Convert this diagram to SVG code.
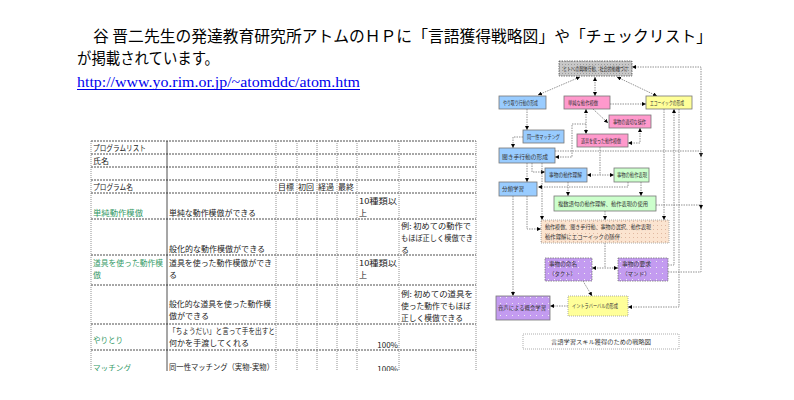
<svg xmlns="http://www.w3.org/2000/svg" width="794" height="400" viewBox="0 0 794 400">
<style>
.t{font-family:"Noto Sans CJK JP","Noto Sans",sans-serif;font-size:8px;fill:#222}
.g{fill:#339966}
.h{stroke:#222;stroke-width:0.8;stroke-dasharray:2 1}
.v{stroke:#777;stroke-width:0.8;stroke-dasharray:1 1}
.b{font-family:"Noto Sans CJK JP","Noto Sans",sans-serif;font-size:5.5px;fill:#333}
.c{fill:none;stroke:#777;stroke-width:0.8;stroke-dasharray:1.5 1}
.bx{stroke:#777;stroke-width:0.8}
</style>
<defs>
<marker id="ah" viewBox="0 0 6 6" refX="6" refY="3" markerWidth="4" markerHeight="4" markerUnits="userSpaceOnUse" orient="auto-start-reverse"><path d="M0,0 L6,3 L0,6 z" fill="#000"/></marker>
<pattern id="pg" width="3" height="3" patternUnits="userSpaceOnUse"><rect width="3" height="3" fill="#c8c8c8"/><rect x="1" y="1" width="1" height="1" fill="#9a9a9a"/></pattern>
<pattern id="po" width="4" height="4" patternUnits="userSpaceOnUse"><rect width="4" height="4" fill="#fbe4d0"/><rect x="1" y="1" width="1" height="1" fill="#e0b8a0"/></pattern>
<pattern id="pp" width="6" height="6" patternUnits="userSpaceOnUse"><rect width="6" height="6" fill="#c39bf0"/><rect x="2" y="3" width="1" height="1" fill="#eee"/></pattern>
<clipPath id="cl"><rect x="0" y="0" width="794" height="371"/></clipPath>
</defs>
<rect width="794" height="400" fill="#fff"/>

<g id="header">
<text x="93" y="42" font-family="'Noto Sans CJK JP',sans-serif" font-size="15.5" fill="#000" textLength="619" lengthAdjust="spacingAndGlyphs">谷 晋二先生の発達教育研究所アトムのＨＰに「言語獲得戦略図」や「チェックリスト」</text>
<text x="77" y="64" font-family="'Noto Sans CJK JP',sans-serif" font-size="15.5" fill="#000" textLength="142" lengthAdjust="spacingAndGlyphs">が掲載されています。</text>
<text x="77" y="87" font-family="'Liberation Serif',serif" font-size="14" fill="#0000ee" textLength="283" lengthAdjust="spacingAndGlyphs">http://www.yo.rim.or.jp/~atomddc/atom.htm</text>
<line x1="77" y1="89.5" x2="360" y2="89.5" stroke="#0000ee" stroke-width="1"/>
</g>

<g id="table" clip-path="url(#cl)">
<g>
<line class="h" x1="91" y1="141" x2="476" y2="141"/>
<line class="h" x1="91" y1="154" x2="476" y2="154"/>
<line class="h" x1="91" y1="167" x2="476" y2="167"/>
<line class="h" x1="91" y1="180" x2="476" y2="180"/>
<line class="h" x1="91" y1="193" x2="476" y2="193"/>
<line class="h" x1="91" y1="219" x2="476" y2="219"/>
<line class="h" x1="91" y1="255" x2="476" y2="255"/>
<line class="h" x1="91" y1="285" x2="476" y2="285"/>
<line class="h" x1="91" y1="324" x2="476" y2="324"/>
<line class="h" x1="91" y1="350" x2="476" y2="350"/>
<line class="v" x1="91" y1="141" x2="91" y2="380"/>
<line x1="167" y1="141" x2="167" y2="380" stroke="#222" stroke-width="0.8"/>
<line class="v" x1="276" y1="141" x2="276" y2="380"/>
<line class="v" x1="297" y1="141" x2="297" y2="380"/>
<line class="v" x1="317" y1="141" x2="317" y2="380"/>
<line class="v" x1="337" y1="141" x2="337" y2="380"/>
<line class="v" x1="357" y1="141" x2="357" y2="380"/>
<line class="v" x1="399" y1="141" x2="399" y2="380"/>
<line class="v" x1="476" y1="141" x2="476" y2="380"/>
</g>
<text class="t" x="93" y="151" textLength="53" lengthAdjust="spacingAndGlyphs">プログラムリスト</text>
<text class="t" x="93" y="164">氏名</text>
<text class="t" x="93" y="190" textLength="40" lengthAdjust="spacingAndGlyphs">プログラム名</text>
<text class="t" x="278" y="190">目標</text>
<text class="t" x="298" y="190">初回</text>
<text class="t" x="318" y="190">経過</text>
<text class="t" x="338" y="190">最終</text>

<text class="t g" x="93" y="216" textLength="50" lengthAdjust="spacingAndGlyphs">単純動作模倣</text>
<text class="t" x="169" y="216" textLength="87" lengthAdjust="spacingAndGlyphs">単純な動作模倣ができる</text>
<text class="t" x="359" y="204" textLength="38" lengthAdjust="spacingAndGlyphs">10種類以</text>
<text class="t" x="359" y="216">上</text>

<text class="t" x="169" y="252" textLength="96" lengthAdjust="spacingAndGlyphs">般化的な動作模倣ができる</text>
<text class="t" x="401" y="229" textLength="70" lengthAdjust="spacingAndGlyphs">例: 初めての動作で</text>
<text class="t" x="401" y="241" textLength="72" lengthAdjust="spacingAndGlyphs">もほぼ正しく模倣でき</text>
<text class="t" x="401" y="253">る</text>

<text class="t g" x="93" y="266" textLength="70" lengthAdjust="spacingAndGlyphs">道具を使った動作模</text>
<text class="t g" x="93" y="278">倣</text>
<text class="t" x="169" y="266" textLength="103" lengthAdjust="spacingAndGlyphs">道具を使った動作模倣ができ</text>
<text class="t" x="169" y="278">る</text>
<text class="t" x="359" y="266" textLength="38" lengthAdjust="spacingAndGlyphs">10種類以</text>
<text class="t" x="359" y="278">上</text>

<text class="t" x="169" y="307" textLength="102" lengthAdjust="spacingAndGlyphs">般化的な道具を使った動作模</text>
<text class="t" x="169" y="319" textLength="40" lengthAdjust="spacingAndGlyphs">倣ができる</text>
<text class="t" x="401" y="297" textLength="72" lengthAdjust="spacingAndGlyphs">例: 初めての道具を</text>
<text class="t" x="401" y="309" textLength="70" lengthAdjust="spacingAndGlyphs">使った動作でもほぼ</text>
<text class="t" x="401" y="321" textLength="62" lengthAdjust="spacingAndGlyphs">正しく模倣できる</text>

<text class="t g" x="93" y="343" textLength="30" lengthAdjust="spacingAndGlyphs">やりとり</text>
<text class="t" x="169" y="334" textLength="106" lengthAdjust="spacingAndGlyphs">「ちょうだい」と言って手を出すと</text>
<text class="t" x="169" y="346" textLength="80" lengthAdjust="spacingAndGlyphs">何かを手渡してくれる</text>
<text class="t" x="398" y="348" text-anchor="end">100%</text>

<text class="t g" x="93" y="371" textLength="38" lengthAdjust="spacingAndGlyphs">マッチング</text>
<text class="t" x="169" y="370" textLength="105" lengthAdjust="spacingAndGlyphs">同一性マッチング（実物-実物）</text>
<text class="t" x="398" y="372" text-anchor="end">100%</text>
</g>

<g id="connectors">
<path class="c" d="M538,95 L580,77" marker-start="url(#ah)" marker-end="url(#ah)"/>
<path class="c" d="M595,77 V96" marker-start="url(#ah)" marker-end="url(#ah)"/>
<path class="c" d="M617,77 L657,96" marker-start="url(#ah)" marker-end="url(#ah)"/>
<path class="c" d="M610,104 H646" marker-end="url(#ah)"/>
<path class="c" d="M586,109 V134" marker-start="url(#ah)" marker-end="url(#ah)"/>
<path class="c" d="M593,109 L608,123" marker-end="url(#ah)"/>
<path class="c" d="M640,128 V143 H628" marker-start="url(#ah)" marker-end="url(#ah)"/>
<path class="c" d="M527,109 V130" marker-end="url(#ah)"/>
<path class="c" d="M523,137 H513 V148" marker-end="url(#ah)"/>
<path class="c" d="M586,124 H572 V157 H555" marker-end="url(#ah)"/>
<path class="c" d="M555,151 H701 V157" marker-end="url(#ah)"/>
<path class="c" d="M668,272 H701 V67 H632" marker-end="url(#ah)"/>
<path class="c" d="M656,205 H701 V209" marker-end="url(#ah)"/>
<path class="c" d="M527,163 V182" marker-end="url(#ah)"/>
<path class="c" d="M532,163 V172 H545" marker-end="url(#ah)"/>
<path class="c" d="M542,163 V220" marker-end="url(#ah)"/>
<path class="c" d="M527,196 V229 H541" marker-end="url(#ah)"/>
<path class="c" d="M513,196 V296" marker-end="url(#ah)"/>
<path class="c" d="M587,175 H614" marker-start="url(#ah)" marker-end="url(#ah)"/>
<path class="c" d="M600,147 V175"/>
<path class="c" d="M628,182 V187 H538" marker-end="url(#ah)"/>
<path class="c" d="M568,182 V196" marker-end="url(#ah)"/>
<path class="c" d="M641,182 V196" marker-end="url(#ah)"/>
<path class="c" d="M605,211 V220" marker-end="url(#ah)"/>
<path class="c" d="M664,109 V220" marker-end="url(#ah)"/>
<path class="c" d="M668,265 H674 V109" marker-end="url(#ah)"/>
<path class="c" d="M679,109 V307 H628" marker-end="url(#ah)"/>
<path class="c" d="M605,243 V268"/>
<path class="c" d="M592,268 H618" marker-start="url(#ah)" marker-end="url(#ah)"/>
<path class="c" d="M583,281 L592,296" marker-end="url(#ah)"/>
<path class="c" d="M568,306 H550" marker-end="url(#ah)"/>
</g>

<g id="n-top"><rect x="559" y="61" width="73" height="15" fill="url(#pg)" stroke="#555" stroke-width="0.8" stroke-dasharray="1.5 1"/><text class="b" x="563" y="71" textLength="65" lengthAdjust="spacingAndGlyphs">ヒトへの興味行動、社会的動機づけ</text></g>
<g id="n-yaritori"><rect class="bx" x="499" y="96" width="47" height="13" fill="#99ccff"/><text class="b" x="503" y="104.5" textLength="35" lengthAdjust="spacingAndGlyphs">やり取り行動の形成</text></g>
<g id="n-tanjun"><rect class="bx" x="564" y="96" width="46" height="13" fill="#ff99cc" stroke="#666"/><text class="b" x="568" y="104.5" textLength="30" lengthAdjust="spacingAndGlyphs">単純な動作模倣</text></g>
<g id="n-echoic"><rect class="bx" x="646" y="96" width="46" height="13" fill="#ffff99"/><text class="b" x="650" y="104.5" textLength="34" lengthAdjust="spacingAndGlyphs">エコーイックの形成</text></g>
<g id="n-sousa"><rect class="bx" x="609" y="115" width="42" height="13" fill="#ff99cc"/><text class="b" x="613" y="123.5" textLength="33" lengthAdjust="spacingAndGlyphs">事物の適切な操作</text></g>
<g id="n-dougu"><rect class="bx" x="577" y="134" width="51" height="13" fill="#ff99cc"/><text class="b" x="581" y="142.5" textLength="40" lengthAdjust="spacingAndGlyphs">道具を使った動作模倣</text></g>
<g id="n-matching"><rect class="bx" x="523" y="130" width="41" height="13" fill="#99ccff"/><text class="b" x="527" y="138.5" textLength="33" lengthAdjust="spacingAndGlyphs">同一性マッチング</text></g>
<g id="n-kikite"><rect class="bx" x="499" y="148" width="56" height="15" fill="#99ccff"/><text class="b" x="502" y="158.5" font-size="7" textLength="46" lengthAdjust="spacingAndGlyphs">聞き手行動の形成</text></g>
<g id="n-rikai"><rect class="bx" x="545" y="168" width="42" height="14" fill="#99ccff"/><text class="b" x="549" y="177" textLength="33" lengthAdjust="spacingAndGlyphs">事物の動作理解</text></g>
<g id="n-hyougen"><rect class="bx" x="614" y="168" width="35" height="14" fill="#ccffcc"/><text class="b" x="617" y="177" textLength="30" lengthAdjust="spacingAndGlyphs">事物の動作表現</text></g>
<g id="n-bunrui"><rect class="bx" x="499" y="182" width="38" height="14" fill="#99ccff"/><text class="b" x="502" y="191">分類学習</text></g>
<g id="n-fukusu"><rect class="bx" x="554" y="196" width="102" height="15" fill="#ccffcc"/><text class="b" x="558" y="206" font-size="6.5" textLength="90" lengthAdjust="spacingAndGlyphs">複数語句の動作理解、動作表現の使用</text></g>
<g id="n-sougou"><rect x="541" y="220" width="128" height="23" fill="url(#po)" stroke="#999" stroke-width="0.8" stroke-dasharray="1 1"/><text class="b" x="545" y="229" font-size="6.5" textLength="106" lengthAdjust="spacingAndGlyphs">動作模倣、聞き手行動、事物の選択、動作表現</text><text class="b" x="545" y="239" font-size="6.5" textLength="75" lengthAdjust="spacingAndGlyphs">動作理解にエコーイックの随伴</text></g>
<g id="n-tact"><rect x="545" y="258" width="47" height="23" fill="url(#pp)" stroke="#777" stroke-width="0.8" stroke-dasharray="1.5 1"/><text class="b" x="549" y="266" textLength="28" lengthAdjust="spacingAndGlyphs">事物の命名</text><text class="b" x="549" y="276" textLength="27" lengthAdjust="spacingAndGlyphs">（タクト）</text></g>
<g id="n-mand"><rect x="618" y="258" width="50" height="23" fill="url(#pp)" stroke="#777" stroke-width="0.8" stroke-dasharray="1.5 1"/><text class="b" x="622" y="266" textLength="29" lengthAdjust="spacingAndGlyphs">事物の要求</text><text class="b" x="622" y="276" textLength="28" lengthAdjust="spacingAndGlyphs">（マンド）</text></g>
<g id="n-intra"><rect x="568" y="296" width="60" height="20" fill="#ffff99" stroke="#999" stroke-width="0.8" stroke-dasharray="1 1"/><text class="b" x="572" y="308" font-size="5" textLength="46" lengthAdjust="spacingAndGlyphs">イントラバーバルの形成</text></g>
<g id="n-onsei"><rect x="496" y="296" width="54" height="24" fill="url(#pp)" stroke="#777" stroke-width="0.8"/><text class="b" x="498" y="310" font-size="6.5" textLength="48" lengthAdjust="spacingAndGlyphs">音声による概念学習</text></g>
<g id="caption"><rect x="523" y="334" width="156" height="15" fill="#fff" stroke="#999" stroke-width="0.8" stroke-dasharray="1 1"/><text class="b" x="601" y="344" font-size="6.5" fill="#555" text-anchor="middle" textLength="100" lengthAdjust="spacingAndGlyphs">言語学習スキル獲得のための戦略図</text></g>
</svg>
